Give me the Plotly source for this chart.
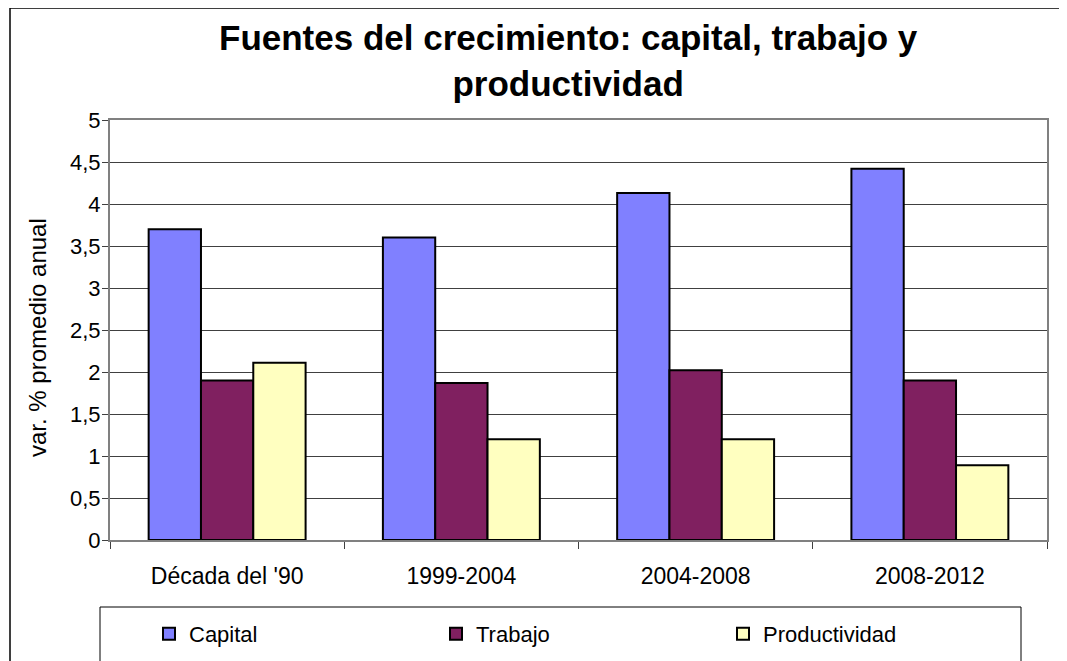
import plotly.graph_objects as go

periods = ["Década del '90", "1999-2004", "2004-2008", "2008-2012"]
capital = [3.70, 3.60, 4.13, 4.42]
trabajo = [1.90, 1.87, 2.02, 1.90]
productividad = [2.11, 1.20, 1.20, 0.89]

SERIES = [
    ("Capital", capital, "#8080FF"),
    ("Trabajo", trabajo, "#802060"),
    ("Productividad", productividad, "#FFFFC0"),
]

# page body adds 8px margin, so work in reference pixels and shift
OFF = 8
W, H = 1067 - OFF, 661 - OFF
PX0, PX1, PY0, PY1 = 110, 1047, 120, 540  # plot area in reference pixels
L, R, T, B = PX0 - OFF, W - (PX1 - OFF), PY0 - OFF, H - (PY1 - OFF)
pw, ph = PX1 - PX0, PY1 - PY0

def px_x(p):
    return (p - PX0) / pw

def px_y(p):
    return (PY1 - p) / ph

fig = go.Figure()
for name, vals, color in SERIES:
    fig.add_trace(go.Bar(x=periods, y=vals, name=name,
                         marker=dict(color=color, line=dict(color="black", width=2))))

fig.update_layout(
    width=W, height=H,
    margin=dict(l=L, r=R, t=T, b=B, autoexpand=False),
    paper_bgcolor="white", plot_bgcolor="white",
    font=dict(family="Liberation Sans, Arial", color="black", size=22),
    barmode="group", bargap=0.33, bargroupgap=0,
    showlegend=True,
    legend=dict(orientation="h", x=px_x(149), xanchor="left",
                y=px_y(613), yanchor="top",
                entrywidth=242, entrywidthmode="pixels",
                font=dict(size=22), bgcolor="rgba(0,0,0,0)",
                itemwidth=30, traceorder="normal"),
    xaxis=dict(showline=True, linecolor="#808080", linewidth=2, mirror=True,
               ticks="outside", tickson="boundaries", ticklen=7, tickcolor="#404040",
               ticklabelstandoff=14, tickfont=dict(size=23)),
    yaxis=dict(range=[0, 5], dtick=0.5,
               showline=True, linecolor="#808080", linewidth=2, mirror=True,
               ticks="outside", ticklen=6, tickcolor="#404040",
               gridcolor="#404040", gridwidth=1,
               ticklabelstandoff=-3, tickfont=dict(size=22)),
    separators=",.",
    annotations=[
        dict(text="<b>Fuentes del crecimiento: capital, trabajo y<br>productividad</b>",
             xref="paper", yref="paper", x=px_x(568), y=px_y(16),
             xanchor="center", yanchor="top", showarrow=False,
             font=dict(size=35)),
        dict(text="var. % promedio anual", textangle=-90,
             xref="paper", yref="paper", x=px_x(37), y=px_y(338),
             xanchor="center", yanchor="middle", showarrow=False,
             font=dict(size=24)),
    ],
    shapes=[
        # legend box
        dict(type="rect", xref="paper", yref="paper",
             x0=px_x(100), x1=px_x(1021), y0=px_y(680), y1=px_y(607),
             line=dict(color="black", width=1)),
        # outer chart border
        dict(type="rect", xref="paper", yref="paper",
             x0=px_x(10), x1=px_x(1075), y0=px_y(690), y1=px_y(8),
             line=dict(color="black", width=1.5)),
    ],
)

fig.write_html("out.html")
